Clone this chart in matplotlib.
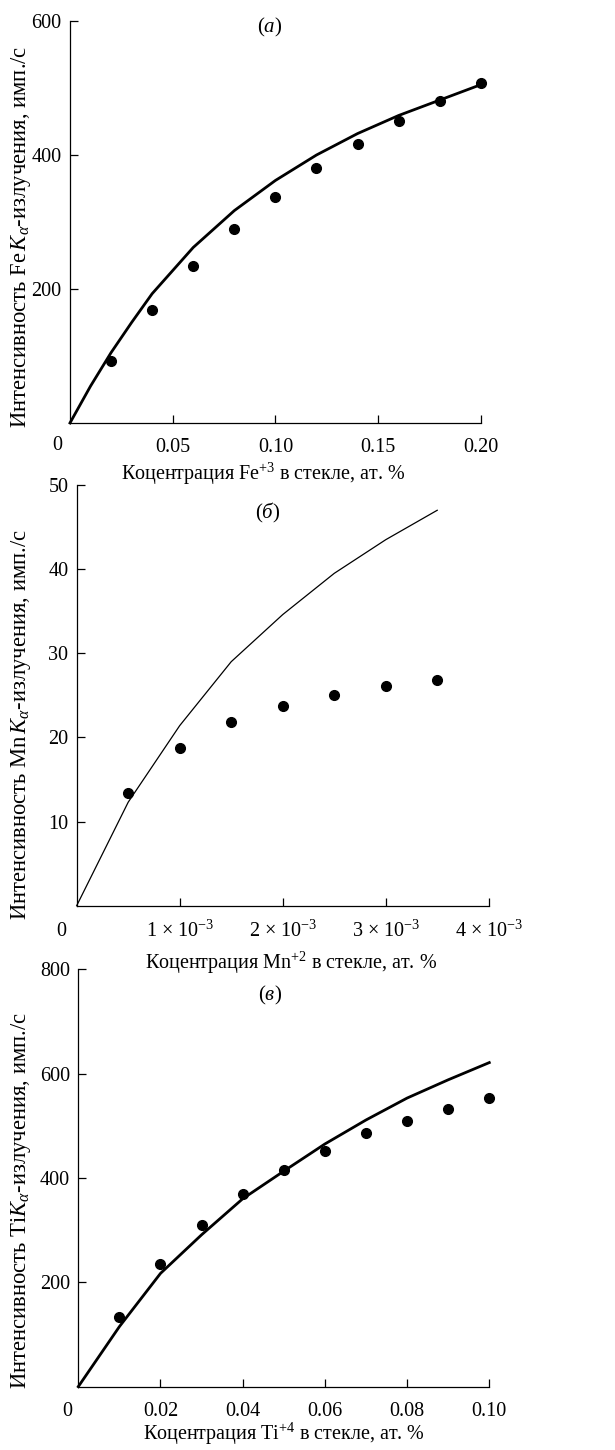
import numpy as np
import matplotlib
matplotlib.use("Agg")
from matplotlib import pyplot

pyplot.rcParams['font.family'] = ['Liberation Serif', 'DejaVu Serif']
pyplot.rcParams['mathtext.fontset'] = 'custom'
pyplot.rcParams['mathtext.rm'] = 'Liberation Serif'
pyplot.rcParams['mathtext.it'] = 'Liberation Serif:italic'
pyplot.rcParams['mathtext.bf'] = 'Liberation Serif:bold'

# (a) Fe
fe_x = [0.02, 0.04, 0.06, 0.08, 0.10, 0.12, 0.14, 0.16, 0.18, 0.20]
fe_pts = [92, 168, 234, 290, 338, 380, 417, 451, 480, 507]
fe_line_x = [0.0, 0.01, 0.02, 0.03, 0.04, 0.06, 0.08, 0.10, 0.12, 0.14, 0.16, 0.18, 0.20]
fe_line = [0, 55, 105, 150, 193, 262, 317, 362, 400, 432, 459, 482, 505]

# (b) Mn
mn_x = [0.5e-3, 1.0e-3, 1.5e-3, 2.0e-3, 2.5e-3, 3.0e-3, 3.5e-3]
mn_pts = [13.4, 18.8, 21.8, 23.7, 25.1, 26.1, 26.8]
mn_line_x = [0.0, 0.5e-3, 1.0e-3, 1.5e-3, 2.0e-3, 2.5e-3, 3.0e-3, 3.5e-3]
mn_line = [0, 12.3, 21.4, 29.0, 34.6, 39.5, 43.5, 47.0]

# (c) Ti
ti_x = [0.01, 0.02, 0.03, 0.04, 0.05, 0.06, 0.07, 0.08, 0.09, 0.10]
ti_pts = [134, 235, 310, 369, 415, 452, 486, 510, 533, 553]
ti_line_x = [0.0, 0.01, 0.02, 0.03, 0.04, 0.05, 0.06, 0.07, 0.08, 0.09, 0.10]
ti_line = [0, 115, 217, 291, 360, 413, 465, 511, 553, 588, 621]

panels = [
    dict(rect=[0.1138, 0.7083, 0.668, 0.2772], x=fe_x, y=fe_pts, lx=fe_line_x, ly=fe_line,
         lw=2.0, xlim=(0, 0.20), ylim=(0, 600),
         xticks=[0.05, 0.10, 0.15, 0.20], xtl=['0.05', '0.10', '0.15', '0.20'],
         yticks=[200, 400, 600],
         tag=r'($\mathit{а}$)', tagpos=(0.487, 0.985),
         ylabel=r'Интенсивность Fe$\,\mathit{K}_\alpha$-излучения, имп./с', ylabpos=(-0.09, 0.463),
         xlabel=r'Коцентрация Fe$^{+3}$ в стекле, ат. %', xlabpos=(0.47, -0.093),
         zero=(-0.032, -0.055)),
    dict(rect=[0.1247, 0.3754, 0.670, 0.2901], x=mn_x, y=mn_pts, lx=mn_line_x, ly=mn_line,
         lw=0.9, xlim=(0, 4e-3), ylim=(0, 50),
         xticks=[1e-3, 2e-3, 3e-3, 4e-3],
         xtl=['1 × 10$^{-3}$', '2 × 10$^{-3}$', '3 × 10$^{-3}$', '4 × 10$^{-3}$'],
         yticks=[10, 20, 30, 40, 50],
         tag=r'($\mathit{б}$)', tagpos=(0.464, 0.934),
         ylabel=r'Интенсивность Mn$\,\mathit{K}_\alpha$-излучения, имп./с', ylabpos=(-0.106, 0.43),
         xlabel=r'Коцентрация Mn$^{+2}$ в стекле, ат. %', xlabpos=(0.52, -0.106),
         zero=(-0.038, -0.062)),
    dict(rect=[0.1273, 0.0437, 0.6683, 0.2879], x=ti_x, y=ti_pts, lx=ti_line_x, ly=ti_line,
         lw=2.0, xlim=(0, 0.10), ylim=(0, 800),
         xticks=[0.02, 0.04, 0.06, 0.08, 0.10], xtl=['0.02', '0.04', '0.06', '0.08', '0.10'],
         yticks=[200, 400, 600, 800],
         tag=r'($\mathit{в}$)', tagpos=(0.466, 0.938),
         ylabel=r'Интенсивность Ti$\mathit{K}_\alpha$-излучения, имп./с', ylabpos=(-0.11, 0.447),
         xlabel=r'Коцентрация Ti$^{+4}$ в стекле, ат. %', xlabpos=(0.50, -0.082),
         zero=(-0.028, -0.06)),
]

fig = pyplot.figure(figsize=(6.15, 14.5), dpi=100)
fs = 14.5

for p in panels:
    ax = fig.add_axes(p['rect'])
    ax.patch.set_alpha(0)
    ax.plot(p['lx'], p['ly'], color='k', lw=p['lw'], solid_joinstyle='round', clip_on=False)
    ax.plot(p['x'], p['y'], 'o', color='k', ms=7, clip_on=False)
    ax.set_xlim(p['xlim'])
    ax.set_ylim(p['ylim'])
    ax.set_xticks(p['xticks'])
    ax.set_xticklabels(p['xtl'])
    ax.set_yticks(p['yticks'])
    ax.spines['top'].set_visible(False)
    ax.spines['right'].set_visible(False)
    for s in ('left', 'bottom'):
        ax.spines[s].set_linewidth(0.9)
    ax.tick_params(direction='in', length=5.5, width=0.9, labelsize=fs)
    ax.tick_params(axis='x', pad=11)
    ax.tick_params(axis='y', pad=6)
    ax.set_ylabel(p['ylabel'], fontsize=16.3)
    ax.yaxis.set_label_coords(*p['ylabpos'])
    ax.set_xlabel(p['xlabel'], fontsize=fs)
    ax.xaxis.set_label_coords(*p['xlabpos'])
    ax.text(p['tagpos'][0], p['tagpos'][1], p['tag'], transform=ax.transAxes,
            ha='center', va='center', fontsize=15)
    ax.text(p['zero'][0], p['zero'][1], '0', transform=ax.transAxes,
            ha='center', va='center', fontsize=fs)

fig.savefig('out.png', dpi=100)
